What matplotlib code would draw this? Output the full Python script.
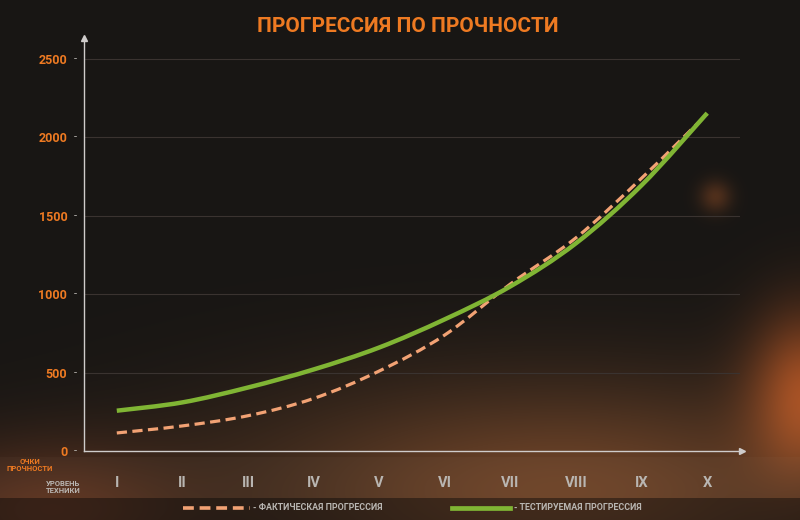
import numpy as np
import matplotlib
matplotlib.use("Agg")
import matplotlib.pyplot as plt
from matplotlib.path import Path
from matplotlib.patches import PathPatch
from matplotlib.lines import Line2D
import matplotlib.transforms as mtransforms

# ---------------- data ----------------
tiers = ["I", "II", "III", "IV", "V", "VI", "VII", "VIII", "IX", "X"]
actual = [115, 160, 225, 335, 510, 740, 1065, 1360, 1740, 2150]
tested = [257, 310, 405, 520, 660, 840, 1050, 1325, 1695, 2155]
yticks = [0, 500, 1000, 1500, 2000, 2500]

title = "ПРОГРЕССИЯ ПО ПРОЧНОСТИ"
ylab = "ОЧКИ\nПРОЧНОСТИ"
xlab = "УРОВЕНЬ\nТЕХНИКИ"
leg_actual = "- ФАКТИЧЕСКАЯ ПРОГРЕССИЯ"
leg_tested = "- ТЕСТИРУЕМАЯ ПРОГРЕССИЯ"

FONT = ["Roboto", "DejaVu Sans"]
plt.rcParams['font.family'] = FONT

ORANGE = "#ee7a22"
PEACH = "#f2a274"
GREEN = "#80b534"
GRAY = "#b9b6b2"

W, H = 800, 520
fig = plt.figure(figsize=(W / 100, H / 100), dpi=100)

# ---------------- background ----------------
bg = fig.add_axes([0, 0, 1, 1])
bg.set_axis_off()
yy, xx = np.mgrid[0:H, 0:W].astype(float)
img = np.zeros((H, W, 3))
img[:] = np.array([24, 22, 20], float)
# warm glow lower middle
g1 = np.exp(-(((xx - 560) / 330) ** 2 + ((yy - 490) / 110) ** 2))
img += g1[..., None] * np.array([85, 45, 20])
# glow lower left
g2 = np.exp(-(((xx - 40) / 140) ** 2 + ((yy - 510) / 70) ** 2))
img += g2[..., None] * np.array([60, 25, 10])
# orange glow right bottom
g3 = np.exp(-(((xx - 805) / 55) ** 2 + ((yy - 390) / 80) ** 2))
img += g3[..., None] * np.array([120, 48, 12])
g4 = np.exp(-(((xx - 715) / 16) ** 2 + ((yy - 196) / 16) ** 2))
img += g4[..., None] * np.array([55, 25, 8])
# lower band below axis
band = (yy > 456) & (yy < 498)
img[band] = img[band] * 0.95 + np.array([8, 7, 6])
leg = yy >= 498
img[leg] = img[leg] * 0.55 + np.array([6, 6, 6])
img = np.clip(img, 0, 255) / 255.0
bg.imshow(img, extent=[0, 1, 0, 1], aspect="auto", zorder=0)
bg.set_xlim(0, 1)
bg.set_ylim(0, 1)

# ---------------- main axes ----------------
left_px, right_px = 84, 740
bottom_px, top_px = 451, 38
ax = fig.add_axes([left_px / W, (H - bottom_px) / H,
                   (right_px - left_px) / W, (bottom_px - top_px) / H])
ax.set_facecolor("none")
x = np.arange(1, len(tiers) + 1)
ax.set_xlim(0.5, 10.5)
ax.set_ylim(0, 2634)

for s in ["top", "right"]:
    ax.spines[s].set_visible(False)
for s in ["left", "bottom"]:
    ax.spines[s].set_color("#cfcccb")
    ax.spines[s].set_linewidth(1.0)

# arrows
ax.plot([0], [1], marker="^", color="#cfcccb", markersize=5,
        transform=ax.transAxes, clip_on=False)
ax.plot([1.003], [0], marker=">", color="#cfcccb", markersize=5,
        transform=ax.transAxes, clip_on=False)

# grid
for v in yticks[1:]:
    ax.axhline(v, color="#3a3330", lw=0.8, zorder=1)

ax.set_yticks(yticks)
ax.set_yticklabels([str(v) for v in yticks], color=ORANGE,
                   fontweight="bold", fontsize=9)
ax.tick_params(axis="y", length=0, pad=12)
trans = mtransforms.blended_transform_factory(ax.transAxes, ax.transData)
for v in yticks:
    ax.text(-0.013, v, "-", color=GRAY, fontsize=8, ha="center",
            va="center", transform=trans)

ax.set_xticks(x)
ax.set_xticklabels(tiers, color=GRAY, fontweight="bold", fontsize=10.5)
ax.tick_params(axis="x", length=0, pad=18)


def smooth_path(xs, ys):
    pts = np.column_stack([xs, ys]).astype(float)
    n = len(pts)
    verts = [tuple(pts[0])]
    codes = [Path.MOVETO]
    for i in range(n - 1):
        p0 = pts[max(i - 1, 0)]
        p1 = pts[i]
        p2 = pts[i + 1]
        p3 = pts[min(i + 2, n - 1)]
        c1 = p1 + (p2 - p0) / 6.0
        c2 = p2 - (p3 - p1) / 6.0
        verts += [tuple(c1), tuple(c2), tuple(p2)]
        codes += [Path.CURVE4] * 3
    return Path(verts, codes)


pa = PathPatch(smooth_path(x, actual), fill=False, edgecolor=PEACH,
               lw=2.3, linestyle=(0, (3.2, 1.7)), capstyle="butt", zorder=3)
ax.add_patch(pa)
pt = PathPatch(smooth_path(x, tested), fill=False, edgecolor=GREEN,
               lw=3.2, capstyle="butt", zorder=4)
ax.add_patch(pt)

# ---------------- texts ----------------
fig.text(408 / W, 1 - 27 / H, title, color=ORANGE, fontsize=15,
         fontweight="bold", ha="center", va="center")
fig.text(30 / W, 1 - 465 / H, ylab, color=ORANGE, fontsize=5.5,
         fontweight="bold", ha="center", va="center", linespacing=1.0)
fig.text(63 / W, 1 - 487 / H, xlab, color=GRAY, fontsize=5.5,
         fontweight="bold", ha="center", va="center", linespacing=1.0)

# legend
ly = 1 - 508 / H
fig.add_artist(Line2D([183 / W, 250 / W], [ly, ly], color=PEACH, lw=2.6,
                      linestyle=(0, (3.0, 1.6)), transform=fig.transFigure))
fig.text(253 / W, ly, leg_actual, color=GRAY, fontsize=6.4,
         fontweight="bold", ha="left", va="center")
fig.add_artist(Line2D([452 / W, 510 / W], [ly, ly], color=GREEN, lw=3.4,
                      transform=fig.transFigure))
fig.text(514 / W, ly, leg_tested, color=GRAY, fontsize=6.4,
         fontweight="bold", ha="left", va="center")

fig.savefig("out.png", dpi=100, facecolor="#161412")
